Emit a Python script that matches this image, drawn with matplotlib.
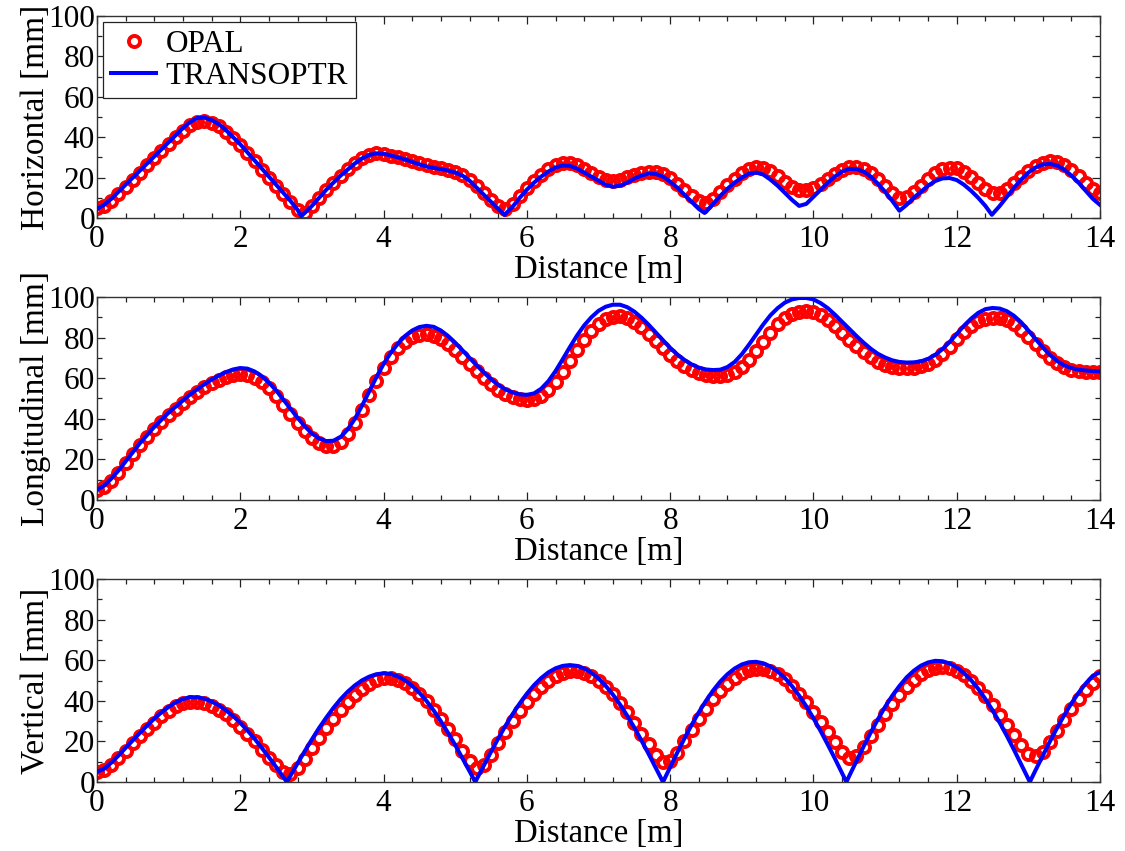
import numpy as np
import matplotlib
matplotlib.use('Agg')
import matplotlib.pyplot as plt
from matplotlib.ticker import MultipleLocator

# Distancia muestreada cada 0.1 m (0 .. 14 m)
distancia = np.linspace(0, 14, 141)

# Plano horizontal [mm]
horiz_opal = [5, 6, 8.5, 12, 15.5, 19, 22.5, 26, 29.5, 33,
              36.5, 40, 43, 45.8, 47.5, 48, 47.2, 45.5, 42.8, 39.5,
              36, 32, 28, 24, 20, 16, 12, 8, 4, 2.5,
              6, 10, 14, 17.5, 21, 24.2, 27.2, 29.7, 31.3, 32,
              31.6, 30.8, 30, 29.2, 28.3, 27.3, 26.3, 25.5, 24.8, 24,
              23, 21.5, 19, 16, 12.5, 9, 6, 4.5, 7, 11,
              15, 18.5, 21.5, 24.2, 26.3, 27.3, 27.2, 26, 24.2, 22.2,
              20.3, 19, 18.5, 19, 20.2, 21.5, 22.5, 23, 22.8, 21.8,
              19.8, 17, 14, 11, 8.5, 7.5, 9.5, 13, 16.5, 19.5,
              22.3, 24.3, 25.2, 25, 23.5, 21, 18, 15.5, 14, 14,
              15, 17, 19.5, 22, 24, 25.2, 25.3, 24.3, 22.3, 19.5,
              16, 12.5, 10, 10.5, 13, 16, 19.5, 22.5, 24.3, 25,
              24.6, 23, 20.5, 17.5, 14.5, 12.5, 12.5, 14.5, 17.5, 20.5,
              23.5, 25.8, 27.3, 28, 27.7, 26.3, 24, 21, 17.5, 14.5,
              12.5]
horiz_trans = [4.5, 6.5, 9.5, 13, 16.5, 20, 23.5, 27, 30.5, 34,
               37.5, 41, 44.5, 47.5, 49.5, 49.7, 48.5, 46.5, 43.5, 40,
               36.5, 32.5, 28.5, 24.5, 20.5, 16.5, 12.5, 8.5, 4, 2.5,
               6, 10, 14, 17.5, 21, 24, 27, 29.5, 31.2, 32,
               31.8, 31, 30, 29, 27.8, 26.5, 25.5, 24.8, 24.2, 23.5,
               22.5, 21, 18.5, 15, 11.5, 8, 4.5, 2, 5.5, 10,
               14, 17.5, 20.5, 23, 25, 26, 25.8, 24.5, 22.5, 20.5,
               18.5, 16.5, 15.5, 16, 17.5, 19.5, 21, 22, 21.8, 20.5,
               18, 15, 11.5, 8, 4.5, 3, 7, 11, 14.5, 17.5,
               20, 22, 22.5, 21.5, 19, 16, 12.5, 9, 6, 7,
               10.5, 14, 17.5, 20.5, 23, 24.3, 24.2, 23, 20.5, 17,
               13, 8.5, 3.6, 6.5, 10, 13, 16, 18.3, 19.6, 19.8,
               18.8, 16.5, 13.5, 10, 6, 2, 6, 10.5, 15, 19,
               22.5, 25, 26.5, 26.8, 26, 24, 21, 17.5, 13.5, 9.5,
               6.5]
horiz_min_x = [2.85, 5.69, 8.48, 12.49]
horiz_min_y = [1.0, 1.5, 2.5, 1.6]

# Plano longitudinal [mm]
long_opal = [5, 6.5, 9.5, 13.5, 18, 22.5, 27, 31, 35, 38.5,
             42, 45, 48, 50.8, 53.3, 55.5, 57.5, 59.3, 60.7, 61.7,
             62, 61.6, 60.3, 58, 55, 51.3, 47, 42.5, 38, 34,
             30.5, 28, 26.7, 26.8, 28.7, 32.5, 38, 44.5, 51.5, 58.5,
             65, 70.5, 74.8, 78, 80.2, 81.3, 81.6, 81, 79.5, 77,
             74, 70.5, 67, 63.5, 60, 57, 54.3, 52, 50.5, 49.6,
             49.4, 49.8, 51.3, 54, 58, 63, 68.5, 74, 79, 83.3,
             86.7, 89, 90.3, 90.6, 89.8, 87.8, 85, 81.7, 78.2, 74.8,
             71.5, 68.5, 66, 64, 62.5, 61.5, 61, 61, 61.5, 63,
             65.5, 69, 73.3, 78, 82.5, 86.5, 89.7, 91.8, 92.8, 93,
             92.5, 91, 88.7, 85.8, 82.5, 79, 75.7, 72.7, 70.2, 68.2,
             66.7, 65.7, 65.2, 65, 65.2, 65.8, 67, 69, 71.8, 75.3,
             79.2, 82.8, 85.8, 88, 89.3, 89.8, 89.6, 88.5, 86.5, 83.8,
             80.5, 76.8, 73.2, 70, 67.3, 65.3, 64, 63.3, 63, 63,
             63]
long_trans = [5, 7, 10.5, 14.5, 19, 23.5, 28, 32, 36, 39.5,
              43, 46, 49, 52, 54.5, 57, 59.3, 61.3, 63, 64.3,
              65, 64.7, 63.3, 61, 57.8, 54, 49.5, 45, 40.5, 36.3,
              32.8, 30.3, 29, 29.2, 31, 34.8, 40, 46.5, 53.5, 60.5,
              67, 72.5, 77, 80.8, 83.5, 85.2, 85.8, 85.3, 83.5, 80.8,
              77.5, 73.8, 70, 66.3, 62.8, 59.5, 56.7, 54.5, 53, 52,
              51.8, 52.5, 54.8, 58.5, 63.5, 69.3, 75.3, 81, 86, 90,
              93.2, 95.2, 96.2, 96.2, 95, 92.8, 89.8, 86.3, 82.5, 78.7,
              75, 71.7, 69, 66.8, 65.2, 64.3, 64, 64.2, 65.5, 68,
              71.8, 76.5, 81.5, 86.5, 91, 94.5, 97.2, 98.8, 99.5, 99.5,
              98.8, 97, 94.5, 91.3, 87.8, 84.3, 80.8, 77.5, 74.5, 72,
              70.2, 68.8, 68, 67.7, 67.8, 68.3, 69.5, 71.5, 74.3, 77.8,
              81.8, 85.8, 89.3, 92.2, 94, 94.6, 94.3, 93, 90.7, 87.5,
              83.5, 79.3, 75.2, 71.5, 68.5, 66.3, 65, 64.2, 63.8, 63.5,
              63.3]

# Plano vertical [mm]
vert_opal = [5, 6, 8.5, 12, 15.5, 19, 22.5, 26, 29.3, 32.3,
             35, 37.2, 38.7, 39.5, 39.5, 38.8, 37.5, 35.7, 33.3, 30.5,
             27.3, 23.8, 20, 16, 12, 8.2, 5, 4, 7, 11.5,
             16.5, 21.5, 26.5, 31.2, 35.5, 39.5, 43, 46, 48.5, 50.3,
             51, 51, 50.2, 48.7, 46.3, 43.3, 39.7, 35.5, 31, 26,
             21, 15.5, 10.5, 7, 8.5, 13.5, 19, 24.5, 30, 35,
             39.5, 43.5, 47, 50, 52.3, 53.8, 54.5, 54.5, 53.7, 52.2,
             50, 47, 43.3, 39, 34.3, 29.2, 23.8, 18.5, 13.5, 10,
             10.5, 14.5, 20, 25.5, 31, 36, 40.7, 44.8, 48.3, 51.2,
             53.5, 55, 55.8, 55.7, 54.8, 53, 50.5, 47.3, 43.5, 39.2,
             34.5, 29.5, 24.5, 19.5, 15, 12, 13, 17, 22.5, 28,
             33.5, 38.5, 43, 47, 50.3, 53, 55, 56.2, 56.5, 56,
             54.8, 52.8, 50, 46.5, 42.5, 38, 33, 28, 23, 18,
             14, 12.8, 15, 19.5, 25, 30.5, 36, 41, 45.5, 49,
             52]
vert_trans = [5, 6.5, 9.5, 13, 16.8, 20.5, 24.2, 27.8, 31.2, 34.3,
              37, 39.2, 40.8, 41.8, 41.7, 41.0, 39.6, 37.8, 35.3, 32.5,
              29.1, 25.4, 21.3, 16.8, 12.2, 7.4, 2.5, 3.1, 9.2, 15.2,
              21.0, 26.6, 31.7, 36.5, 40.8, 44.5, 47.6, 50.1, 51.9, 53.1,
              53.5, 53.2, 52.0, 50.1, 47.4, 44.0, 39.9, 35.2, 29.9, 24.2,
              18.2, 11.8, 5.3, 1.4, 8.2, 14.9, 21.4, 27.6, 33.4, 38.7,
              43.5, 47.7, 51.2, 54.0, 56.0, 57.2, 57.6, 57.2, 55.9, 53.9,
              51.0, 47.4, 43.1, 38.2, 32.7, 26.8, 20.4, 13.8, 6.9, 0,
              7.3, 14.5, 21.5, 28.1, 34.3, 40.0, 45.1, 49.5, 53.1, 55.9,
              57.9, 59.0, 59.2, 58.5, 56.9, 54.5, 51.3, 47.3, 42.6, 37.3,
              31.4, 25.1, 18.4, 11.5, 4.3, 3.0, 10.3, 17.5, 24.4, 30.9,
              37.0, 42.5, 47.3, 51.5, 54.8, 57.3, 58.9, 59.7, 59.5, 58.4,
              56.5, 53.7, 50.2, 45.9, 40.9, 35.3, 29.2, 22.7, 15.8, 8.7,
              1.5, 5.8, 12.9, 19.9, 26.6, 32.9, 38.7, 43.9, 48.5, 52.4,
              54]
vert_min_x = [2.65, 5.28, 10.46, 13.02]
vert_min_y = [0, 0, 0, 0]

etiquetas_y = ['Horizontal [mm]', 'Longitudinal [mm]', 'Vertical [mm]']

plt.rcParams['font.family'] = 'serif'
plt.rcParams['font.serif'] = ['Liberation Serif', 'DejaVu Serif']


# Junta la rejilla regular con los minimos (cuspides) de TRANSOPTR
def juntar_minimos(x, y, xm, ym):
    xx = np.concatenate([np.asarray(x, float), np.asarray(xm, float)])
    yy = np.concatenate([np.asarray(y, float), np.asarray(ym, float)])
    orden = np.argsort(xx, kind='stable')
    return xx[orden], yy[orden]


def dibujar_panel(ax, opal, x_trans, y_trans, etiqueta, leyenda=False):
    ax.plot(distancia, opal, 'o', mfc='none', mec='#ff0000', ms=8, mew=2.8,
            label='OPAL', zorder=2)
    ax.plot(x_trans, y_trans, '-', color='#0000ff', lw=2.9,
            label='TRANSOPTR', zorder=3)

    ax.set_xlim(0, 14)
    ax.set_ylim(0, 100)
    ax.xaxis.set_major_locator(MultipleLocator(2))
    ax.xaxis.set_minor_locator(MultipleLocator(0.4))
    ax.yaxis.set_major_locator(MultipleLocator(20))
    ax.yaxis.set_minor_locator(MultipleLocator(10))
    ax.tick_params(which='both', direction='in', top=True, right=True,
                   width=0.9, colors='#222222', labelcolor='black')
    ax.tick_params(which='major', length=6, labelsize=22.5)
    ax.tick_params(which='minor', length=3.5)
    ax.tick_params(axis='x', which='major', pad=5)
    ax.tick_params(axis='y', which='major', pad=1.5)
    for s in ax.spines.values():
        s.set_linewidth(1.0)
        s.set_color('#333333')

    ax.set_xlabel('Distance [m]', fontsize=23.5, labelpad=0.5)
    ax.set_ylabel(etiqueta, fontsize=24, labelpad=-2)

    if leyenda:
        leg = ax.legend(loc='upper left', fontsize=22.5, numpoints=1,
                        frameon=True, fancybox=False, framealpha=1,
                        borderaxespad=0.2, handlelength=1.45,
                        handletextpad=0.3, borderpad=0.25,
                        labelspacing=0.08)
        leg.get_frame().set_edgecolor('#222222')
        leg.get_frame().set_linewidth(0.9)


fig = plt.figure(figsize=(11.25, 8.51), dpi=100)

ax1 = fig.add_axes([0.0862, 0.7438, 0.8916, 0.2374])
ax2 = fig.add_axes([0.0862, 0.4125, 0.8916, 0.2385])
ax3 = fig.add_axes([0.0862, 0.0811, 0.8916, 0.2385])

hx, hy = juntar_minimos(distancia, horiz_trans, horiz_min_x, horiz_min_y)
dibujar_panel(ax1, horiz_opal, hx, hy, etiquetas_y[0], leyenda=True)

dibujar_panel(ax2, long_opal, distancia, long_trans, etiquetas_y[1])

vx, vy = juntar_minimos(distancia, vert_trans, vert_min_x, vert_min_y)
dibujar_panel(ax3, vert_opal, vx, vy, etiquetas_y[2])

fig.savefig('out.png', dpi=100)
